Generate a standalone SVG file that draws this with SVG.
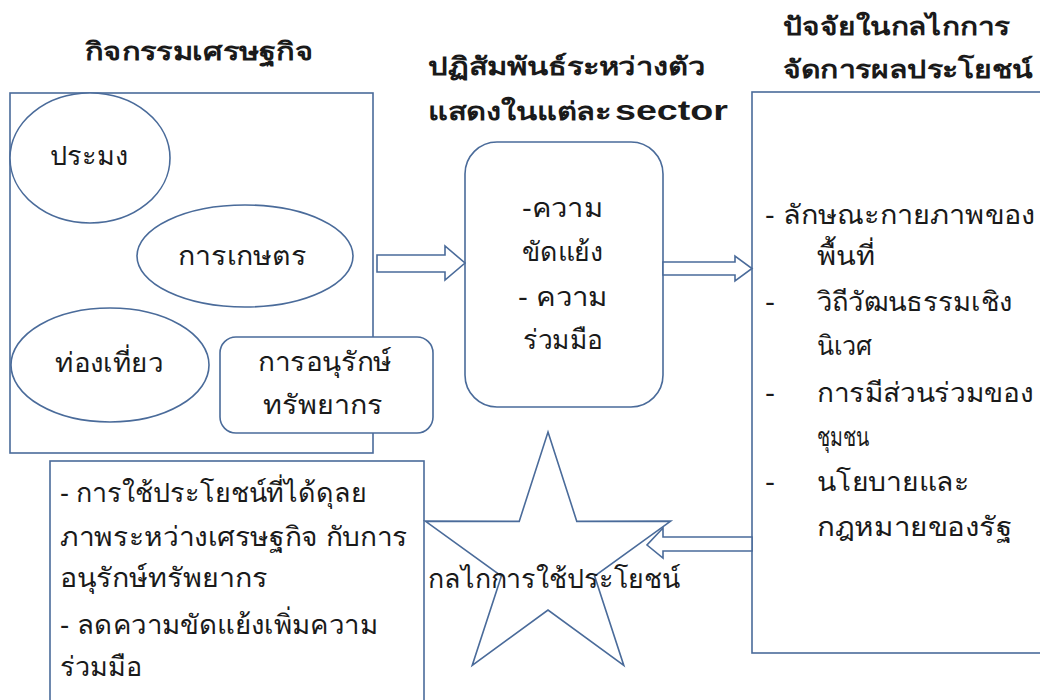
<svg xmlns="http://www.w3.org/2000/svg" width="1040" height="700" viewBox="0 0 1040 700">
<style>
.s{fill:#fff;stroke:#4a6b9a;stroke-width:1.6}
text{font-family:"Liberation Sans","DejaVu Sans","Noto Sans",sans-serif;fill:#1a1a1a}
.h{font-size:25px;font-weight:bold}
.t{font-size:27px}
.c{font-size:27px}
</style>
<rect width="1040" height="700" fill="#fff"/>
<g id="headings">
<text class="h" x="85" y="60" textLength="228" lengthAdjust="spacingAndGlyphs">กิจกรรมเศรษฐกิจ</text>
<text class="h" x="428" y="75" textLength="277" lengthAdjust="spacingAndGlyphs">ปฏิสัมพันธ์ระหว่างตัว</text>
<text class="h" x="428" y="120"><tspan textLength="183" lengthAdjust="spacingAndGlyphs">แสดงในแต่ละ</tspan><tspan x="615" y="120" font-size="28" textLength="113" lengthAdjust="spacingAndGlyphs">sector</tspan></text>
<text class="h" x="783" y="35" textLength="227" lengthAdjust="spacingAndGlyphs">ปัจจัยในกลไกการ</text>
<text class="h" x="783" y="78" textLength="250" lengthAdjust="spacingAndGlyphs">จัดการผลประโยชน์</text>
</g>
<g id="economic-activities">
<rect class="s" x="10" y="93" width="363" height="360"/>
</g>
<g id="fishery">
<ellipse class="s" cx="90" cy="158" rx="80" ry="65"/>
<text class="t" x="50" y="165" textLength="78" lengthAdjust="spacingAndGlyphs">ประมง</text>
</g>
<g id="agriculture">
<ellipse class="s" cx="245" cy="256" rx="108" ry="51"/>
<text class="t" x="178" y="265" textLength="129" lengthAdjust="spacingAndGlyphs">การเกษตร</text>
</g>
<g id="tourism">
<ellipse class="s" cx="110" cy="365" rx="99" ry="57"/>
<text class="t" x="55" y="372" textLength="108" lengthAdjust="spacingAndGlyphs">ท่องเที่ยว</text>
</g>
<g id="conservation">
<rect class="s" x="220" y="337" width="213" height="96" rx="16"/>
<text class="t" x="258" y="371" textLength="134" lengthAdjust="spacingAndGlyphs">การอนุรักษ์</text>
<text class="t" x="263" y="414" textLength="120" lengthAdjust="spacingAndGlyphs">ทรัพยากร</text>
</g>
<g id="interaction">
<rect class="s" x="465" y="142" width="198" height="265" rx="32"/>
<text class="t" x="522" y="217" textLength="81" lengthAdjust="spacingAndGlyphs">-ความ</text>
<text class="t" x="522" y="261" textLength="81" lengthAdjust="spacingAndGlyphs">ขัดแย้ง</text>
<text class="t" x="518" y="306" textLength="90" lengthAdjust="spacingAndGlyphs">- ความ</text>
<text class="t" x="523" y="349" textLength="80" lengthAdjust="spacingAndGlyphs">ร่วมมือ</text>
</g>
<g id="factors">
<rect class="s" x="752" y="92" width="300" height="561"/>
<text class="t" x="765" y="224" textLength="270" lengthAdjust="spacingAndGlyphs">- ลักษณะกายภาพของ</text>
<text class="t" x="817" y="265" textLength="58" lengthAdjust="spacingAndGlyphs">พื้นที่</text>
<text class="t" x="765" y="311" textLength="10" lengthAdjust="spacingAndGlyphs">-</text>
<text class="t" x="817" y="311" textLength="195" lengthAdjust="spacingAndGlyphs">วิถีวัฒนธรรมเชิง</text>
<text class="t" x="817" y="355" textLength="55" lengthAdjust="spacingAndGlyphs">นิเวศ</text>
<text class="t" x="765" y="402" textLength="10" lengthAdjust="spacingAndGlyphs">-</text>
<text class="t" x="817" y="402" textLength="216" lengthAdjust="spacingAndGlyphs">การมีส่วนร่วมของ</text>
<text class="t" x="817" y="446" textLength="52" lengthAdjust="spacingAndGlyphs">ชุมชน</text>
<text class="t" x="765" y="491" textLength="10" lengthAdjust="spacingAndGlyphs">-</text>
<text class="t" x="817" y="491" textLength="153" lengthAdjust="spacingAndGlyphs">นโยบายและ</text>
<text class="t" x="817" y="536" textLength="195" lengthAdjust="spacingAndGlyphs">กฎหมายของรัฐ</text>
</g>
<g id="outcomes">
<rect class="s" x="50" y="461" width="374" height="260"/>
<text class="c" x="60" y="502" textLength="307" lengthAdjust="spacingAndGlyphs">- การใช้ประโยชน์ที่ได้ดุลย</text>
<text class="c" x="60" y="546" textLength="348" lengthAdjust="spacingAndGlyphs">ภาพระหว่างเศรษฐกิจ กับการ</text>
<text class="c" x="60" y="587" textLength="208" lengthAdjust="spacingAndGlyphs">อนุรักษ์ทรัพยากร</text>
<text class="c" x="60" y="634" textLength="318" lengthAdjust="spacingAndGlyphs">- ลดความขัดแย้งเพิ่มความ</text>
<text class="c" x="60" y="676" textLength="82" lengthAdjust="spacingAndGlyphs">ร่วมมือ</text>
</g>
<g id="mechanism">
<polygon class="s" points="548,432 576.8,521.4 670.7,521.1 594.6,576.1 623.8,665.4 548,610 472.2,665.4 501.4,576.1 425.3,521.1 519.2,521.4"/>
<text class="c" x="428" y="588" textLength="252" lengthAdjust="spacingAndGlyphs">กลไกการใช้ประโยชน์</text>
</g>
<g id="connectors">
<polygon class="s" points="377,255 445,255 445,246 465,263 445,280 445,272 377,272"/>
<polygon class="s" points="663,262 735,262 735,256 752,268.5 735,281 735,275 663,275"/>
<polygon class="s" points="752,537 663,537 663,528 647,545 663,558 663,551 752,551"/>
</g>
</svg>
